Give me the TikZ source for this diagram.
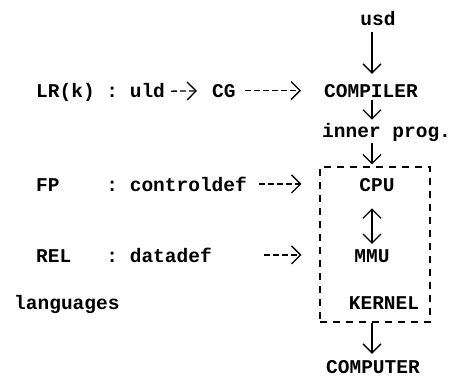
\documentclass[tikz,border=0pt]{standalone}
\usepackage{fontspec}
\setmonofont{Liberation Mono}
\usetikzlibrary{arrows.meta}
\tikzstyle{word} = [inner sep=0pt, font=\fontsize{19.5}{22}\selectfont\ttfamily\bfseries]
\tikzstyle{flow} = [->, line width=1.3pt]
\tikzstyle{typed} = [->, line width=1.3pt, dash pattern=on 6pt off 3pt]
\tikzstyle{kernelbox} = [rectangle, draw=black, line width=1.1pt, dash pattern=on 7pt off 6pt, minimum width=110pt, minimum height=155pt, inner sep=0pt]

\begin{document}
\begin{tikzpicture}[x=1pt, y=-1pt, >={Straight Barb[length=9pt,width=18pt]}]
		\useasboundingbox (0,0) rectangle (452,384);
		\coordinate (spine) at (372,0);
		% left column: languages
		\node (uld)[word, anchor=base west] at (36,97) {LR(k) : uld};
		\node (CG)[word, anchor=base west] at (212,97) {CG};
		\node (controldef)[word, anchor=base west] at (36,191) {FP\ \ \ \ : controldef};
		\node (datadef)[word, anchor=base west] at (36,262) {REL\ \ \ : datadef};
		\node (languages)[word, anchor=base west] at (14,309) {languages};
		% right column
		\node (usd)[word, anchor=base] at (378,25) {usd};
		\node (Compiler)[word, anchor=base] at (371,97) {COMPILER};
		\node (inner)[word, anchor=base west] at (322,137) {inner prog.};
		\node (Kernel)[kernelbox] at (375,244.5) {};
		\node (CPU)[word, anchor=base] at (377,191) {CPU};
		\node (MMU)[word, anchor=base] at (372,262) {MMU};
		\node (KernelText)[word, anchor=base] at (384,309) {KERNEL};
		\node (Computer)[word, anchor=base] at (373,373) {COMPUTER};
		% connectors
		\draw [typed, shorten <=6pt, shorten >=15pt] (uld) -- (CG);
		\draw [typed, shorten <=9pt, shorten >=23pt] (CG) -- (Compiler);
		\draw [typed, shorten <=12pt, shorten >=18pt] (controldef.east) -- (controldef.east -| Kernel.west);
		\draw [typed, shorten <=52pt, shorten >=18pt] (datadef.east) -- (datadef.east -| Kernel.west);
		\draw [flow, shorten <=7pt, shorten >=10pt] (usd.south -| spine) -- (Compiler.north -| spine);
		\draw [flow, shorten <=3pt, shorten >=3pt] (Compiler.south -| spine) -- (inner.north -| spine);
		\draw [flow, shorten <=2pt, shorten >=2pt] (inner.south -| spine) -- (Kernel.north -| spine);
		\draw [<->, line width=1.3pt, shorten <=17pt, shorten >=5pt] (CPU.south -| spine) -- (MMU.north -| spine);
		\draw [flow, shorten >=6pt] (Kernel.south -| spine) -- (Computer.north -| spine);
	\end{tikzpicture}
\end{document}
